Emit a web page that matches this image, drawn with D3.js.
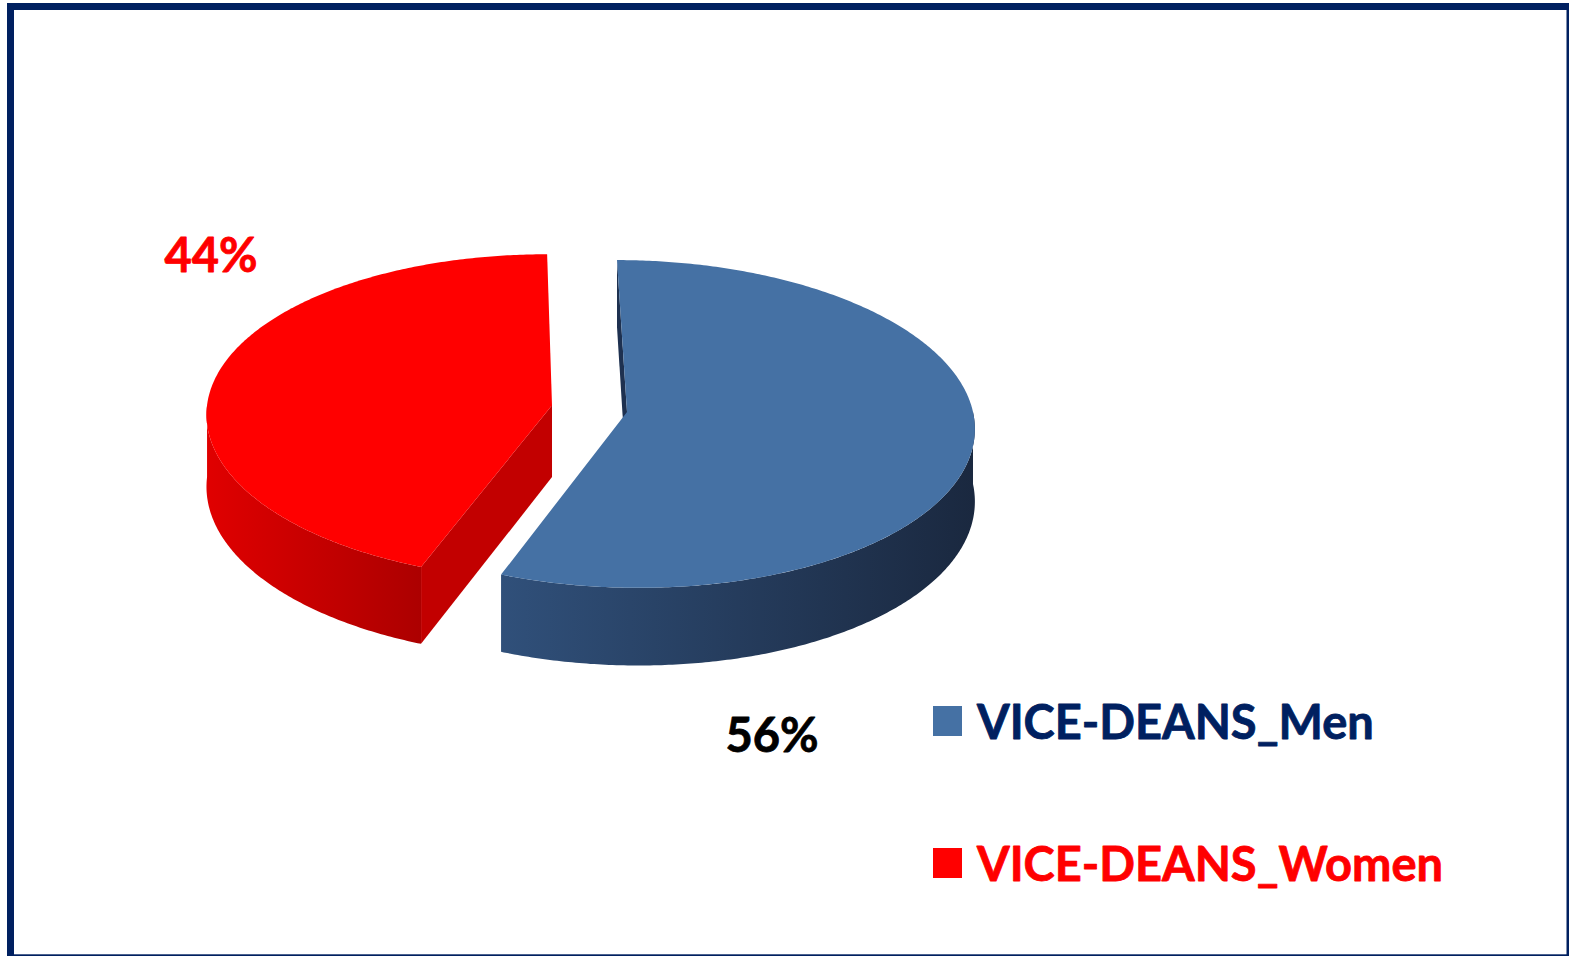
<!DOCTYPE html>
<html lang="en">
<head>
<meta charset="utf-8">
<title>Vice-deans by gender</title>
<script src="https://cdn.jsdelivr.net/npm/d3@7"></script>
<style>
  html, body { margin: 0; padding: 0; background: #fff; }
  svg { display: block; }
  text { font-family: Lato, "Open Sans", sans-serif; font-weight: 700; stroke-linejoin: round; }
</style>
</head>
<body>
<svg id="chart" width="1569" height="956"></svg>
<script>
// data
var categories = ["VICE-DEANS_Men", "VICE-DEANS_Women"];
var values = [56, 44];
var pctLabels = ["56%", "44%"];
var colors = ["#4571A4", "#FF0000"];

var svg = d3.select("#chart");

// frame
svg.append("rect")
   .attr("x", 10.5).attr("y", 6.5)
   .attr("width", 1559.5).attr("height", 951.3)
   .attr("fill", "#fff")
   .attr("stroke", "#002060")
   .attr("stroke-width", 7);

// 3d pie with a little perspective
var cx = 627, cy = 412;   // pie centre on screen
var B = 346, A = 163;     // horizontal / vertical radius
var k = 0.073;            // perspective strength
var X0 = 480;             // vanishing x
var D = 72;               // thickness
var explode = [0, 0.22];
var camU = (X0 - cx) / B, camV = 1 / k;

function proj(u, v, down) {
  var s = 1 / (1 - k * v);
  return [X0 + (cx - X0 + B * u) * s, cy + A * v * s + (down ? D * s : 0)];
}

var defs = svg.append("defs");
function hGrad(id, c0, c1) {
  var g = defs.append("linearGradient").attr("id", id)
    .attr("x1", 0).attr("x2", 1).attr("y1", 0).attr("y2", 0);
  g.append("stop").attr("offset", 0).attr("stop-color", c0);
  g.append("stop").attr("offset", 1).attr("stop-color", c1);
}
hGrad("side0", "#30507A", "#1A283F");
hGrad("side1", "#E00000", "#AC0000");
var cutColors = ["#1E3150", "#C20000"];

var pie = d3.pie().sort(null).value(function(d) { return d; });
var arcs = pie(values);
var line = d3.line();

// draw the exploded slice first, then the other
[1, 0].forEach(function(i) {
  var a = arcs[i];
  var mid = (a.startAngle + a.endAngle) / 2;
  var ou = explode[i] * Math.sin(mid), ov = -explode[i] * Math.cos(mid);
  var rim = function(t, down) { return proj(ou + Math.sin(t), ov - Math.cos(t), down); };
  var ctr = function(down) { return proj(ou, ov, down); };
  var g = svg.append("g");

  // radial cut faces
  [[a.startAngle, -1], [a.endAngle, 1]].forEach(function(f) {
    var t = f[0];
    var nu = f[1] * Math.cos(t), nv = f[1] * Math.sin(t);
    if (nu * (camU - ou) + nv * (camV - ov) > 0) {
      g.append("path")
       .attr("d", line([ctr(false), rim(t, false), rim(t, true), ctr(true)]) + "Z")
       .attr("fill", cutColors[i]);
    }
  });

  // outer side, front half only
  var s0 = Math.max(a.startAngle, Math.PI / 2), s1 = Math.min(a.endAngle, 3 * Math.PI / 2);
  if (s1 > s0) {
    var ts = d3.range(s0, s1, 0.01).concat([s1]);
    var pts = ts.map(function(t) { return rim(t, false); })
      .concat(ts.slice().reverse().map(function(t) { return rim(t, true); }));
    g.append("path").attr("d", line(pts) + "Z").attr("fill", "url(#side" + i + ")");
  }

  // top face
  var tt = d3.range(a.startAngle, a.endAngle, 0.01).concat([a.endAngle]);
  var top = [ctr(false)].concat(tt.map(function(t) { return rim(t, false); }));
  g.append("path").attr("d", line(top) + "Z").attr("fill", colors[i]);
});

// data labels
var labelPos = [[772, 752], [211, 272]];
var labelFill = ["#000000", "#FF0000"];
svg.selectAll("text.pct")
   .data(pctLabels)
   .enter()
   .append("text")
   .attr("class", "pct")
   .attr("x", function(d, i) { return labelPos[i][0]; })
   .attr("y", function(d, i) { return labelPos[i][1]; })
   .attr("text-anchor", "middle")
   .attr("font-size", 47)
   .attr("fill", function(d, i) { return labelFill[i]; })
   .attr("stroke", function(d, i) { return labelFill[i]; })
   .attr("stroke-width", 0.8)
   .text(function(d) { return d; });

// legend
var legendY = [721, 863];
var legendText = ["#002060", "#FF0000"];
var leg = svg.selectAll("g.leg")
   .data(categories)
   .enter()
   .append("g")
   .attr("class", "leg")
   .attr("transform", function(d, i) { return "translate(933," + legendY[i] + ")"; });
leg.append("rect")
   .attr("x", 0).attr("y", -15)
   .attr("width", 29).attr("height", 30)
   .attr("fill", function(d, i) { return colors[i]; });
leg.append("text")
   .attr("x", 44).attr("y", 18)
   .attr("font-size", 47)
   .attr("fill", function(d, i) { return legendText[i]; })
   .attr("stroke", function(d, i) { return legendText[i]; })
   .attr("stroke-width", 0.8)
   .text(function(d) { return d; });
</script>
</body>
</html>
